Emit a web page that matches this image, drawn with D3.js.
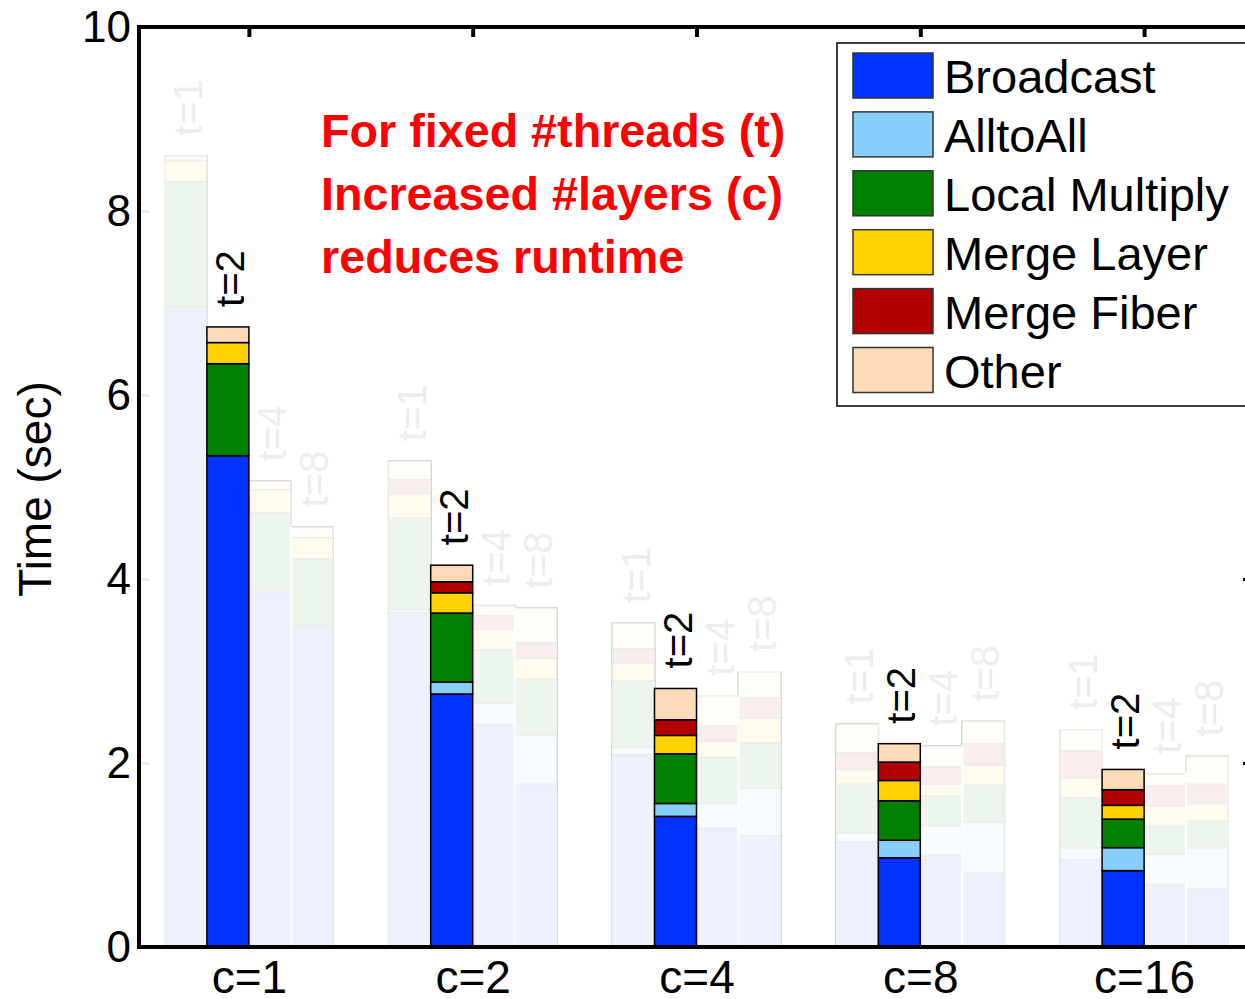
<!DOCTYPE html>
<html>
<head>
<meta charset="utf-8">
<script src="https://cdn.jsdelivr.net/npm/d3@7"></script>
<style>
  body { margin: 0; background: #fff; }
  svg { display: block; }
  text { font-family: "Liberation Sans", Arial, sans-serif; }
</style>
</head>
<body>
<svg id="chart" width="1245" height="999"></svg>
<script>
// data (seconds), rows = c, columns = t
const components = ["Broadcast", "AlltoAll", "Local Multiply", "Merge Layer", "Merge Fiber", "Other"];
const colors = ["#0033ff", "#87cefa", "#008000", "#ffd200", "#b20000", "#fedab9"];
const layers = ["c=1", "c=2", "c=4", "c=8", "c=16"];
const threads = ["t=1", "t=2", "t=4", "t=8"];
const highlight = "t=2";
const yTicks = [0, 2, 4, 6, 8, 10];

const broadcast  = [[6.96, 5.34, 3.86, 3.50], [3.63, 2.75, 2.42, 1.77], [2.09, 1.42, 1.29, 1.21], [1.14, 0.97, 1.00, 0.80], [0.95, 0.83, 0.68, 0.63]];
const alltoall   = [[0.00, 0.00, 0.00, 0.00], [0.04, 0.13, 0.23, 0.53], [0.08, 0.14, 0.27, 0.52], [0.10, 0.19, 0.32, 0.56], [0.13, 0.25, 0.33, 0.45]];
const localMult  = [[1.36, 1.00, 0.86, 0.72], [0.99, 0.75, 0.58, 0.61], [0.72, 0.54, 0.50, 0.49], [0.53, 0.43, 0.32, 0.40], [0.54, 0.31, 0.30, 0.29]];
const mergeLayer = [[0.23, 0.23, 0.25, 0.23], [0.27, 0.22, 0.23, 0.23], [0.20, 0.20, 0.18, 0.27], [0.16, 0.22, 0.13, 0.22], [0.22, 0.15, 0.22, 0.19]];
const mergeFiber = [[0.00, 0.00, 0.00, 0.00], [0.15, 0.12, 0.14, 0.17], [0.15, 0.17, 0.16, 0.22], [0.18, 0.20, 0.19, 0.23], [0.29, 0.17, 0.22, 0.21]];
const other      = [[0.05, 0.17, 0.09, 0.11], [0.20, 0.18, 0.11, 0.37], [0.28, 0.34, 0.33, 0.28], [0.31, 0.20, 0.22, 0.24], [0.23, 0.22, 0.13, 0.30]];

const noteLines = ["For fixed #threads (t)", "Increased #layers (c)", "reduces runtime"];

const series = [broadcast, alltoall, localMult, mergeLayer, mergeFiber, other];
const rows = [];
layers.forEach((c, i) => {
    threads.forEach((t, j) => {
        const r = { c: c, t: t };
        components.forEach((k, n) => r[k] = series[n][i][j]);
        rows.push(r);
    });
});

const svg = d3.select("#chart");
const plot = { left: 139, right: 1251, top: 27, bottom: 947 };

const x = d3.scalePoint().domain(layers).range([137, 1256]).padding(0.5);
const xt = d3.scaleBand().domain(threads).range([-84, 84]).padding(0);
const y = d3.scaleLinear().domain([0, 10]).range([plot.bottom, plot.top]);
const color = d3.scaleOrdinal().domain(components).range(colors);

const stack = d3.stack().keys(components);
const stacked = stack(rows);

const bars = svg.append("g");

function drawBars(filter, g) {
    stacked.forEach(s => {
        g.selectAll(null)
            .data(s.filter(d => filter(d.data) && d[1] - d[0] > 0.001))
            .enter()
            .append("rect")
            .attr("x", d => x(d.data.c) + xt(d.data.t))
            .attr("width", xt.bandwidth())
            .attr("y", d => y(d[1]))
            .attr("height", d => y(d[0]) - y(d[1]))
            .attr("fill", color(s.key))
            .attr("stroke", "#000")
            .attr("stroke-width", 1.5);
    });
}

// faded bars: full colour then a white veil on top
const faded = bars.append("g");
drawBars(d => d.t !== highlight, faded);
faded.selectAll(".veil")
    .data(rows.filter(d => d.t !== highlight))
    .enter()
    .append("rect")
    .attr("class", "veil")
    .attr("x", d => x(d.c) + xt(d.t) - 1)
    .attr("width", xt.bandwidth() + 2)
    .attr("y", d => y(d3.sum(components, k => d[k])) - 1)
    .attr("height", d => y(0) - y(d3.sum(components, k => d[k])) + 1)
    .attr("fill", "#fff")
    .attr("opacity", 0.93);

drawBars(d => d.t === highlight, bars.append("g"));

// thread labels above each bar
svg.append("g").selectAll("text")
    .data(rows)
    .enter()
    .append("text")
    .attr("transform", d => {
        const tx = x(d.c) + xt(d.t) + xt.bandwidth() - 5;
        const ty = y(d3.sum(components, k => d[k])) - 20;
        return `translate(${tx},${ty}) rotate(-90)`;
    })
    .attr("font-size", 40)
    .attr("fill", d => d.t === highlight ? "#000" : "#ededed")
    .text(d => d.t);

// axes frame
const axes = svg.append("g");
axes.append("g")
    .attr("transform", `translate(${plot.left},0)`)
    .call(d3.axisLeft(y).tickValues(yTicks).tickSize(-10).tickPadding(8))
    .call(g => g.select(".domain").remove())
    .call(g => g.selectAll(".tick line").attr("stroke", "#e4e4e4").attr("stroke-width", 2))
    .call(g => g.selectAll(".tick text").attr("font-size", 44).attr("fill", "#000")
        .attr("font-family", "Liberation Sans, Arial, sans-serif"));

axes.append("g")
    .attr("transform", `translate(${plot.right},0)`)
    .call(d3.axisRight(y).tickValues(yTicks).tickSize(-8).tickFormat(""))
    .call(g => g.select(".domain").remove())
    .call(g => g.selectAll(".tick line").attr("stroke", "#000").attr("stroke-width", 3));

axes.append("g")
    .attr("transform", `translate(0,${plot.top})`)
    .call(d3.axisTop(x).tickSize(-10).tickFormat(""))
    .call(g => g.select(".domain").remove())
    .call(g => g.selectAll(".tick line").attr("stroke", "#000").attr("stroke-width", 4));

axes.append("g")
    .attr("transform", `translate(0,${plot.bottom})`)
    .call(d3.axisBottom(x).tickSize(0).tickPadding(13))
    .call(g => g.select(".domain").remove())
    .call(g => g.selectAll(".tick text").attr("font-size", 46).attr("fill", "#000")
        .attr("dy", "0.71em").attr("font-family", "Liberation Sans, Arial, sans-serif"));

axes.append("path")
    .attr("d", `M${plot.left},${plot.bottom}V${plot.top}H${plot.right}V${plot.bottom}Z`)
    .attr("fill", "none")
    .attr("stroke", "#000")
    .attr("stroke-width", 4);

svg.append("text")
    .attr("transform", `translate(51,489) rotate(-90)`)
    .attr("text-anchor", "middle")
    .attr("font-size", 46)
    .text("Time (sec)");

// red note
svg.append("g").selectAll("text")
    .data(noteLines)
    .enter()
    .append("text")
    .attr("x", 321)
    .attr("y", (d, i) => 147 + i * 63)
    .attr("font-family", "Lato, 'Open Sans', sans-serif")
    .attr("font-weight", "bold")
    .attr("font-size", 46.7)
    .attr("fill", "#ff0000")
    .text(d => d);

// legend
const legend = svg.append("g").attr("transform", "translate(837,43)");
legend.append("rect")
    .attr("width", 430)
    .attr("height", 363)
    .attr("fill", "#fff")
    .attr("stroke", "#000")
    .attr("stroke-width", 1.5);
const item = legend.selectAll(".item")
    .data(components)
    .enter()
    .append("g")
    .attr("transform", (d, i) => `translate(16,${10 + i * 58.9})`);
item.append("rect")
    .attr("width", 80)
    .attr("height", 45)
    .attr("fill", d => color(d))
    .attr("stroke", "#333")
    .attr("stroke-width", 1.5);
item.append("text")
    .attr("x", 91)
    .attr("y", 40)
    .attr("font-size", 47)
    .text(d => d);
</script>
</body>
</html>
